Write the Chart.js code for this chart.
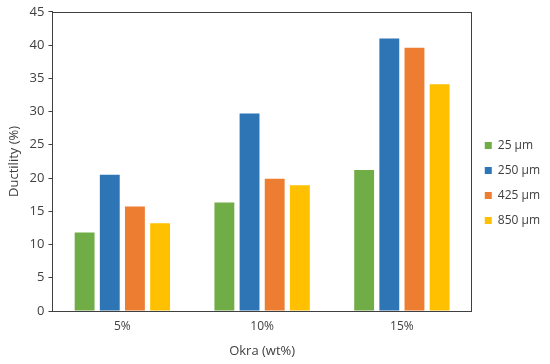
<!DOCTYPE html>
<html lang="en">
  <head>
    <meta charset="utf-8" />
    <script src="https://cdn.jsdelivr.net/npm/chart.js"></script>
    <title>Ductility</title>
    <style>
      html, body { margin: 0; padding: 0; background: #fff; }
      #wrap { width: 550px; height: 364px; }
    </style>
  </head>
  <body>
    <div id="wrap"><canvas id="myChart"></canvas></div>
    <script>
      // categories and series
      var categorias = ["5%", "10%", "15%"];
      var serieNomes = ["25 µm", "250 µm", "425 µm", "850 µm"];
      var d25 = [11.8, 16.3, 21.2];
      var d250 = [20.5, 29.7, 41.0];
      var d425 = [15.7, 19.9, 39.6];
      var d850 = [13.2, 18.9, 34.1];
      var cores = ["#70AD47", "#2E75B6", "#ED7D31", "#FFC000"];
      var yTicks = [0, 5, 10, 15, 20, 25, 30, 35, 40, 45];

      var series = [d25, d250, d425, d850];
      var fonte = "'Open Sans', 'Liberation Sans', sans-serif";
      var corEixo = "#404040";
      var corTexto = "#404040";

      // moldura em volta da area do grafico
      var moldura = {
        id: "moldura",
        afterDraw: function (chart) {
          var a = chart.chartArea, c = chart.ctx;
          c.save();
          c.strokeStyle = corEixo;
          c.lineWidth = 1;
          c.strokeRect(Math.round(a.left) + 0.5, Math.round(a.top) + 0.5,
            Math.round(a.right - a.left), Math.round(a.bottom - a.top));
          c.restore();
        }
      };

      var ctx = document.getElementById("myChart").getContext("2d");
      var myChart = new Chart(ctx, {
        type: "bar",
        data: {
          labels: categorias,
          datasets: series.map(function (s, i) {
            return {
              label: serieNomes[i],
              data: s,
              backgroundColor: cores[i],
              borderWidth: 0,
              categoryPercentage: 0.72,
              barPercentage: 0.79
            };
          })
        },
        options: {
          responsive: true,
          maintainAspectRatio: false,
          animation: false,
          layout: { padding: { top: 3, right: 0, left: 2, bottom: 1 } },
          plugins: {
            tooltip: { enabled: false },
            legend: {
              position: "right",
              align: "center",
              labels: {
                boxWidth: 7,
                boxHeight: 7,
                padding: 13,
                color: corTexto,
                font: { family: fonte, size: 12 }
              }
            }
          },
          scales: {
            x: {
              grid: { display: false },
              border: { display: true, color: corEixo },
              ticks: { color: corTexto, font: { family: fonte, size: 12 }, padding: 0 },
              title: { display: true, text: "Okra (wt%)", color: corTexto, font: { family: fonte, size: 13 }, padding: { top: 10 } }
            },
            y: {
              min: 0,
              max: 45,
              afterBuildTicks: function (axis) {
                axis.ticks = yTicks.map(function (v) { return { value: v }; });
              },
              grid: { drawOnChartArea: false, drawTicks: true, tickLength: 4, color: corEixo },
              border: { display: true, color: corEixo },
              ticks: { color: corTexto, font: { family: fonte, size: 13 }, padding: 4 },
              title: { display: true, text: "Ductility (%)", color: corTexto, font: { family: fonte, size: 13 }, padding: { bottom: 4 } }
            }
          }
        },
        plugins: [moldura]
      });
    </script>
  </body>
</html>
